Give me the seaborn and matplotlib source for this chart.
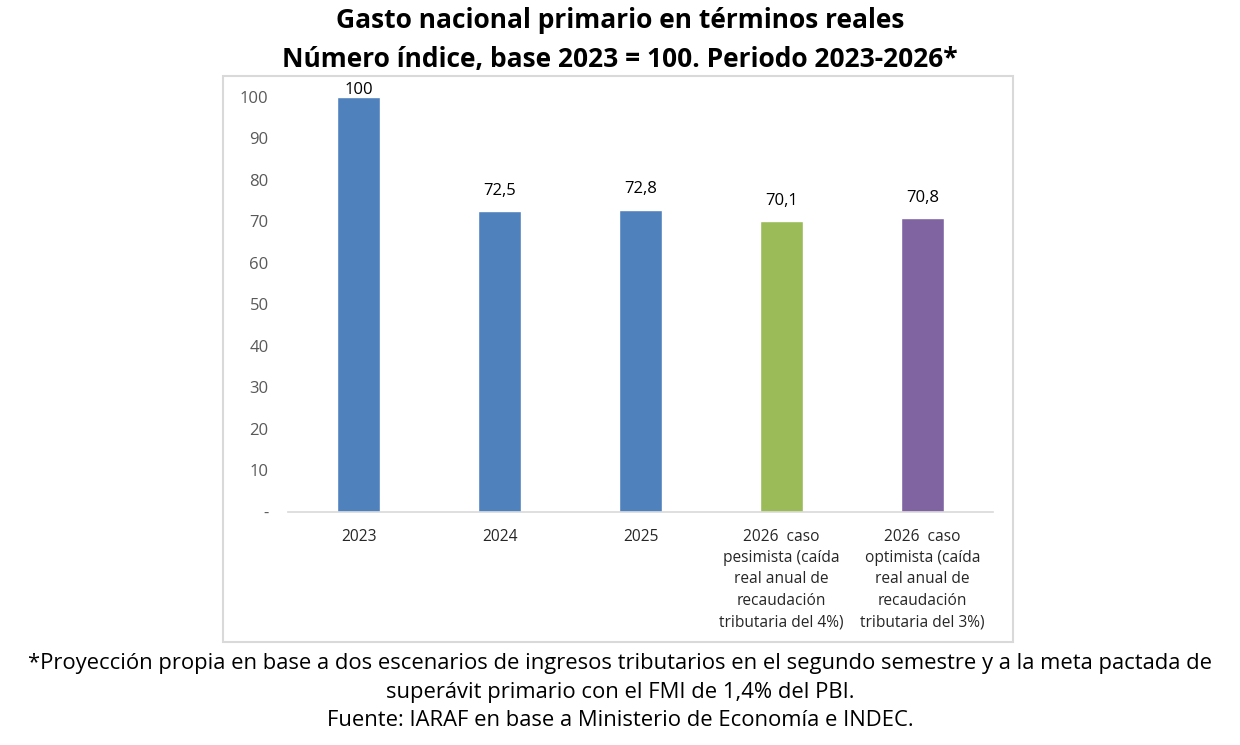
import numpy as np
import pandas as pd
import seaborn as sns
import matplotlib
matplotlib.use("Agg")
import matplotlib.pyplot as plt
from matplotlib.patches import Rectangle
from matplotlib.ticker import FuncFormatter

# datos
categorias = ["2023", "2024", "2025",
              "2026  caso\npesimista (caída\nreal anual de\nrecaudación\ntributaria del 4%)",
              "2026  caso\noptimista (caída\nreal anual de\nrecaudación\ntributaria del 3%)"]
valores = [100, 72.5, 72.8, 70.1, 70.8]
etiquetas = ["100", "72,5", "72,8", "70,1", "70,8"]
colores = ["#4F81BD", "#4F81BD", "#4F81BD", "#9BBB59", "#8064A2"]

titulo = "Gasto nacional primario en términos reales\nNúmero índice, base 2023 = 100. Periodo 2023-2026*"
nota = ("*Proyección propia en base a dos escenarios de ingresos tributarios en el segundo semestre y a la meta pactada de\n"
        "superávit primario con el FMI de 1,4% del PBI.\n"
        "Fuente: IARAF en base a Ministerio de Economía e INDEC.")

df = pd.DataFrame({"cat": categorias, "valor": valores})

sns.set_style("white")
plt.rcParams["font.family"] = ["Open Sans", "DejaVu Sans"]
plt.rcParams["text.color"] = "black"

fig = plt.figure(figsize=(12.4, 7.45), dpi=100)
ax = fig.add_axes([0.2323, 0.3128, 0.5685, 0.557])

sns.barplot(data=df, x="cat", y="valor", hue="cat", palette=colores,
            width=0.3, legend=False, ax=ax, saturation=1)

for i, cont in enumerate(ax.containers):
    pad = -1 if valores[i] >= 100 else 9
    ax.bar_label(cont, labels=[etiquetas[i]], padding=pad, fontsize=12, color="black")

ax.set_xlim(-0.5, 4.5)
ax.set_ylim(0, 100)
ax.set_yticks(np.arange(0, 101, 10))
ax.yaxis.set_major_formatter(FuncFormatter(lambda v, p: "-" if v == 0 else f"{int(v)}"))
ax.tick_params(axis="y", length=0, pad=14, labelsize=12, labelcolor="#595959")
ax.tick_params(axis="x", length=0, pad=12, labelsize=11.2, labelcolor="#262626")
for lab in ax.get_xticklabels():
    lab.set_linespacing(1.45)
ax.set_xlabel("")
ax.set_ylabel("")
for s in ["left", "right", "top"]:
    ax.spines[s].set_visible(False)
ax.spines["bottom"].set_color("#D9D9D9")
ax.spines["bottom"].set_linewidth(1.2)
ax.set_facecolor("none")

# marco del area del grafico
fig.patches.append(Rectangle((0.1798, 0.1383), 0.6371, 0.7597, transform=fig.transFigure,
                             fill=False, edgecolor="#D9D9D9", linewidth=1.5))

fig.text(0.5, 0.99, titulo, ha="center", va="top", fontsize=19, fontweight="bold",
         linespacing=1.55)
fig.text(0.5, 0.123, nota, ha="center", va="top", fontsize=15.8, linespacing=1.45)

fig.savefig("out.png", dpi=100)
